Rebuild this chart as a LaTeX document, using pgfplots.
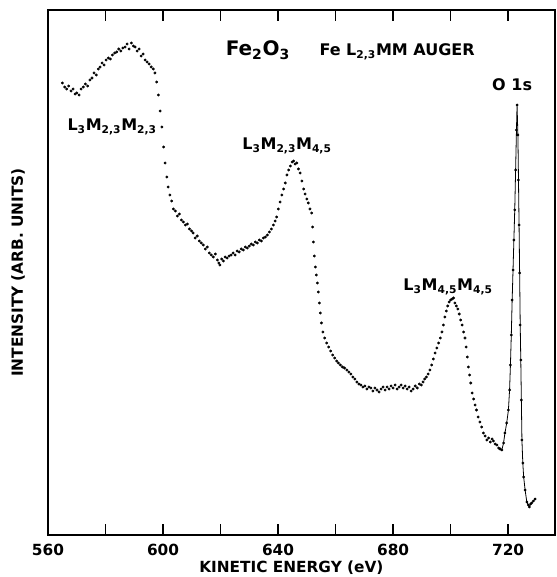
\documentclass[border=0pt]{standalone}
\usepackage{fontspec}
\setmainfont{DejaVu Sans}
\usepackage{pgfplots}
\pgfplotsset{compat=1.18}
\begin{document}
\begin{tikzpicture}
\begin{axis}[
  scale only axis,
  width=380.25pt, height=393.75pt,
  xmin=560, xmax=736.3, ymin=0, ymax=525,
  axis line style={line width=0.8pt},
  xtick={560,580,600,620,640,660,680,700,720},
  xticklabels={560,{},600,{},640,{},680,{},720},
  ytick=\empty,
  xtick style={black, line width=1pt},
  xtick align=inside,
  major tick length=8pt,
  xticklabel style={font=\fontsize{11.5}{14}\selectfont\bfseries, yshift=-3.5pt},
  xlabel={KINETIC ENERGY (eV)},
  xlabel style={font=\fontsize{11.5}{14}\selectfont\bfseries, at={(axis description cs:0.48,0)}, anchor=center, yshift=-24.75pt},
  ylabel={INTENSITY (ARB. UNITS)},
  ylabel style={font=\fontsize{11.5}{14}\selectfont\bfseries, at={(axis description cs:0,0.5)}, anchor=center, rotate=0, yshift=22.5pt},
  clip=false,
]
\addplot[only marks, mark=*, mark size=0.85pt, black] coordinates {
(565.0,452)(565.8,448)(566.5,446)(567.2,449)(568.0,444)(568.7,446)(569.4,441)(570.0,442)
(570.8,440)(571.5,446)(572.3,448)(573.0,451)(573.8,449)(574.6,455)(575.3,457)(576.0,462)
(576.8,460)(577.5,466)(578.1,468)(578.8,472)(579.5,470)(580.2,475)(581.0,477)(581.7,476)
(582.4,480)(583.2,482)(583.9,483)(584.6,486)(585.3,484)(586.0,487)(586.8,488)(587.5,491)
(588.2,486)(589.0,492)(589.7,489)(590.3,488)(591.0,484)(591.7,486)(592.4,479)(593.1,481)
(593.8,475)(594.5,473)(595.2,471)(595.9,468)(596.6,466)(597.2,462)(597.8,453)(598.4,440)
(599.0,424)(599.6,408)(600.2,388)(600.7,372)(601.3,358)(601.8,348)(602.4,340)(603.0,334)
(603.6,326)(604.3,324)(605.0,319)(605.7,321)(606.4,315)(607.1,313)(607.8,310)(608.5,311)
(609.2,306)(609.9,304)(610.5,302)(611.2,297)(611.9,299)(612.6,294)(613.3,292)(614.0,290)
(614.7,286)(615.4,288)(616.1,282)(616.8,280)(617.5,278)(618.2,281)(618.9,275)(619.4,272)
(619.8,270)(620.4,276)(621.0,274)(621.6,278)(622.3,277)(623.0,279)(623.7,280)(624.4,282)
(625.1,280)(625.8,284)(626.5,283)(627.2,286)(627.9,285)(628.6,288)(629.3,287)(630.0,289)
(630.7,291)(631.4,290)(632.1,293)(632.8,292)(633.5,295)(634.2,294)(634.9,297)(635.6,298)
(636.3,300)(637.0,303)(637.7,306)(638.4,310)(639.0,314)(639.5,318)(640.1,326)(640.7,333)
(641.3,340)(641.9,346)(642.5,352)(643.1,360)(643.7,365)(644.3,369)(644.9,373)(645.4,374)
(645.9,371)(646.5,372)(647.1,366)(647.7,362)(648.3,354)(648.9,346)(649.4,341)(650.0,336)
(650.5,332)(651.1,326)(651.7,322)(652.0,308)(652.3,293)(652.6,279)(653.0,268)(653.3,260)
(653.7,252)(654.0,243)(654.4,232)(654.7,222)(655.1,212)(655.6,203)(656.2,197)(656.9,192)
(657.6,188)(658.3,184)(659.0,180)(659.7,177)(660.4,174)(661.0,172)(661.7,170)(662.4,168)
(663.1,167)(663.9,165)(664.6,163)(665.3,161)(666.0,158)(666.7,156)(667.4,153)(668.1,151)
(668.8,150)(669.5,148)(670.2,149)(670.9,146)(671.6,148)(672.3,147)(673.0,144)(673.7,147)
(674.4,145)(675.1,143)(675.8,146)(676.5,148)(677.2,145)(677.9,148)(678.6,146)(679.3,149)
(680.0,147)(680.7,150)(681.4,146)(682.1,148)(682.8,150)(683.5,147)(684.2,149)(684.9,146)
(685.6,148)(686.3,144)(687.0,146)(687.7,149)(688.4,147)(689.1,151)(689.8,150)(690.4,153)
(691.0,156)(691.6,158)(692.2,161)(692.8,165)(693.4,170)(694.0,176)(694.6,182)(695.2,187)
(695.8,192)(696.4,197)(697.0,203)(697.5,210)(698.0,218)(698.5,224)(699.0,229)(699.5,233)
(700.0,235)(700.5,236)(701.0,237)(701.5,232)(702.0,229)(702.5,226)(703.0,221)(703.5,215)
(704.0,210)(704.5,203)(705.0,197)(705.4,188)(705.8,178)(706.2,168)(706.6,160)(707.0,152)
(707.5,142)(708.0,136)(708.5,130)(709.0,125)(709.6,118)(710.2,113)(710.8,108)(711.4,102)
(712.0,99)(712.6,95)(713.2,97)(713.8,93)(714.4,96)(714.9,94)(715.5,91)(716.1,90)
(716.7,87)(717.2,86)
};
\addplot[black, line width=0.6pt, mark=*, mark size=0.7pt] coordinates {
(717.2,86)(717.8,85)(718.4,92)(718.9,102)(719.5,112)(720.1,125)(720.5,145)(720.8,170)
(721.1,200)(721.4,235)(721.7,265)(722.0,295)(722.3,325)(722.6,365)(722.9,405)(723.1,430)
(723.4,400)(723.6,355)(723.8,310)(724.0,262)(724.2,210)(724.4,175)(724.6,135)(724.8,95)
(725.1,72)(725.4,58)(725.9,45)(726.5,33)(727.0,30)(727.4,28)(727.8,31)(728.2,32)
(728.8,34)(729.4,36)
};
\pgfplotsinvokeforeach{560,580,600,620,640,660,680,700,720}{
  \draw[black, line width=1pt] (axis cs:#1,0) -- (axis cs:#1,10);
  \draw[black, line width=1pt] (axis cs:#1,525) -- (axis cs:#1,515);
}
\node[font=\fontsize{15}{18}\selectfont\bfseries] at (axis cs:633,485) {Fe\textsubscript{2}O\textsubscript{3}};
\node[font=\fontsize{12}{15}\selectfont\bfseries] at (axis cs:681.4,483) {Fe L\textsubscript{2,3}MM AUGER};
\node[font=\fontsize{12}{15}\selectfont\bfseries] at (axis cs:721.4,450) {O 1s};
\node[font=\fontsize{12}{15}\selectfont\bfseries] at (axis cs:582.3,408) {L\textsubscript{3}M\textsubscript{2,3}M\textsubscript{2,3}};
\node[font=\fontsize{12}{15}\selectfont\bfseries] at (axis cs:643.1,389) {L\textsubscript{3}M\textsubscript{2,3}M\textsubscript{4,5}};
\node[font=\fontsize{12}{15}\selectfont\bfseries] at (axis cs:699.1,248) {L\textsubscript{3}M\textsubscript{4,5}M\textsubscript{4,5}};
\coordinate (sw) at (rel axis cs:0,0);
\coordinate (ne) at (rel axis cs:1,1);
\end{axis}
\pgfresetboundingbox
\useasboundingbox ([xshift=-36pt,yshift=-31.5pt]sw) rectangle ([xshift=0.75pt,yshift=7.5pt]ne);
\end{tikzpicture}
\end{document}
